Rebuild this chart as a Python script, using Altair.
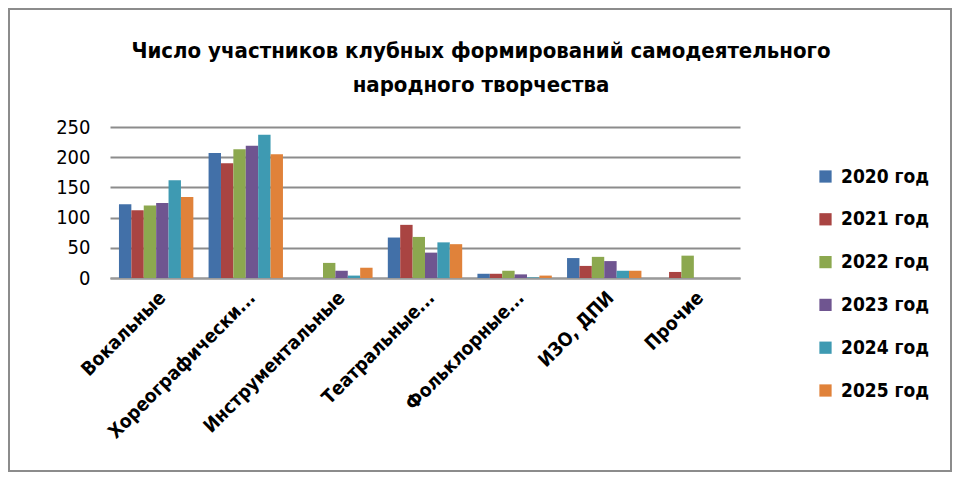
import altair as alt
import pandas as pd

categories = ["Вокальные", "Хореографически...", "Инструментальные", "Театральные...",
              "Фольклорные...", "ИЗО, ДПИ", "Прочие"]
years = ["2020 год", "2021 год", "2022 год", "2023 год", "2024 год", "2025 год"]
v2020 = [122, 207, 0, 67, 7, 33, 0]
v2021 = [112, 190, 0, 88, 7, 20, 10]
v2022 = [120, 213, 25, 68, 12, 35, 37]
v2023 = [124, 219, 12, 42, 6, 28, 0]
v2024 = [162, 237, 4, 59, 1, 12, 0]
v2025 = [134, 205, 17, 56, 4, 12, 0]
colors = ["#4270A8", "#A94442", "#8CA84F", "#6F5590", "#3E9AB2", "#E0823A"]

series = [v2020, v2021, v2022, v2023, v2024, v2025]
rows = []
for y, vals in zip(years, series):
    for c, v in zip(categories, vals):
        rows.append({"cat": c, "year": y, "value": v})
df = pd.DataFrame(rows)

FONT = "DejaVu Sans Condensed, Liberation Sans, sans-serif"
W, H = 630, 151

bars = alt.Chart(df).mark_bar().encode(
    x=alt.X("cat:N", sort=categories,
            scale=alt.Scale(paddingInner=0.17, paddingOuter=0.1),
            axis=alt.Axis(title=None, labelAngle=-45, labelFont=FONT, labelFontSize=19,
                          labelFontWeight="bold", labelColor="#000", ticks=False,
                          domainColor="#9a9a9a", domainWidth=2, labelPadding=10,
                          labelLimit=300)),
    xOffset=alt.XOffset("year:N", sort=years),
    y=alt.Y("value:Q", scale=alt.Scale(domain=[0, 250]),
            axis=alt.Axis(title=None, values=[0, 50, 100, 150, 200, 250],
                          labelFont=FONT, labelFontSize=20, labelColor="#000",
                          ticks=False, domain=False, gridColor="#8c8c8c",
                          gridWidth=2, labelPadding=20)),
    color=alt.Color("year:N", sort=years,
                    scale=alt.Scale(domain=years, range=colors),
                    legend=alt.Legend(title=None, orient="none", legendX=706, legendY=40,
                                      labelFont=FONT, labelFontSize=19,
                                      labelFontWeight="bold", labelColor="#000",
                                      symbolType="square", symbolSize=150,
                                      symbolStrokeWidth=0, rowPadding=22.8,
                                      labelOffset=6)),
)

frame = alt.Chart(pd.DataFrame({"a": [0]})).mark_rect(
    fill=None, stroke="#8c8c8c", strokeWidth=2
).encode(x=alt.value(-101), x2=alt.value(841), y=alt.value(-118), y2=alt.value(344))

chart = alt.layer(bars, frame).properties(
    width=W, height=H,
    padding={"left": 102, "top": 119, "right": 212, "bottom": 194},
    autosize=alt.AutoSizeParams(type="none"),
    title=alt.Title(["Число участников клубных формирований самодеятельного",
                     "народного творчества"],
                    font=FONT, fontSize=22, fontWeight="bold", color="#000",
                    anchor="middle", dx=56, dy=111, offset=22, lineHeight=34),
).configure_view(stroke=None)

chart.save("out.html", embed_options={"renderer": "svg", "actions": False})
